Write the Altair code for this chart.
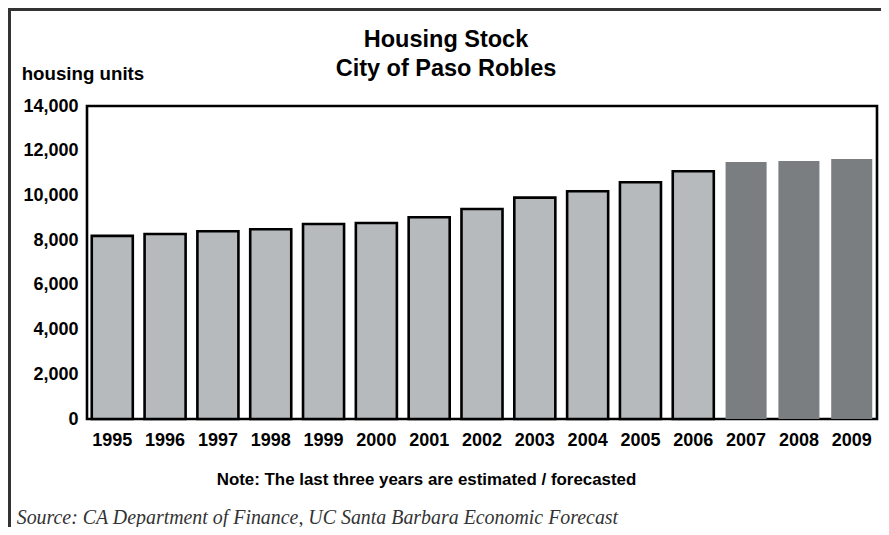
import altair as alt
import pandas as pd

years = ["1995", "1996", "1997", "1998", "1999", "2000", "2001", "2002",
         "2003", "2004", "2005", "2006", "2007", "2008", "2009"]
units = [8190, 8275, 8395, 8485, 8722, 8767, 9022, 9393,
         9903, 10185, 10587, 11079, 11495, 11540, 11630]
status = ["actual"] * 12 + ["forecast"] * 3
y_ticks = [0, 2000, 4000, 6000, 8000, 10000, 12000, 14000]

title_lines = ["Housing Stock", "City of Paso Robles"]
y_label = "housing units"
note = "Note: The last three years are estimated / forecasted"
source = "Source: CA Department of Finance, UC Santa Barbara Economic Forecast"

df = pd.DataFrame({"year": years, "units": units, "status": status})
one = pd.DataFrame({"a": [0]})

SANS = "Liberation Sans"
SERIF = "Liberation Serif"

x_enc = alt.X("year:N", sort=years,
              scale=alt.Scale(domain=years, paddingInner=0.223, paddingOuter=0.09),
              axis=alt.Axis(title=None, labelAngle=0, labelFont=SANS, labelFontSize=18,
                            labelFontWeight="bold", labelColor="black", labelPadding=12,
                            ticks=False, domain=False, grid=False))
y_enc = alt.Y("units:Q", scale=alt.Scale(domain=[0, 14000], nice=False),
              axis=alt.Axis(title=None, values=y_ticks, format=",.0f", labelFont=SANS,
                            labelFontSize=18, labelFontWeight="bold", labelColor="black",
                            labelPadding=9, ticks=False, domain=False, grid=False))

base = alt.Chart(df)
actual = base.transform_filter(alt.datum.status == "actual").mark_bar(
    color="#b6babd", stroke="black", strokeWidth=2.6
).encode(x=x_enc, y=y_enc)
forecast = base.transform_filter(alt.datum.status == "forecast").mark_bar(
    color="#7b7e81"
).encode(x=x_enc, y=y_enc)

border_left = alt.Chart(one).mark_rule(color="#333333", strokeWidth=3).encode(
    x=alt.value(-77.5), y=alt.value(-98), y2=alt.value(421))
border_top = alt.Chart(one).mark_rule(color="#333333", strokeWidth=3).encode(
    x=alt.value(-79), x2=alt.value(794), y=alt.value(-96.5))

t1 = alt.Chart(one).mark_text(font=SANS, fontSize=23.5, fontWeight="bold", color="black",
                              align="center", baseline="alphabetic").encode(
    x=alt.value(359), y=alt.value(-59.3), text=alt.value(title_lines[0]))
t2 = alt.Chart(one).mark_text(font=SANS, fontSize=23.5, fontWeight="bold", color="black",
                              align="center", baseline="alphabetic").encode(
    x=alt.value(359), y=alt.value(-30.5), text=alt.value(title_lines[1]))
ylab = alt.Chart(one).mark_text(font=SANS, fontSize=18.7, fontWeight="bold", color="black",
                                align="left", baseline="alphabetic").encode(
    x=alt.value(-65.3), y=alt.value(-26), text=alt.value(y_label))
note_t = alt.Chart(one).mark_text(font=SANS, fontSize=16.9, fontWeight="bold", color="black",
                                  align="left", baseline="alphabetic").encode(
    x=alt.value(129.7), y=alt.value(379), text=alt.value(note))
src_t = alt.Chart(one).mark_text(font=SERIF, fontSize=19.9, fontStyle="italic", color="#333333",
                                 align="left", baseline="alphabetic").encode(
    x=alt.value(-70.3), y=alt.value(418), text=alt.value(source))

chart = alt.layer(actual, forecast, border_left, border_top, t1, t2, ylab, note_t, src_t).properties(
    width=790, height=313,
    autosize=alt.AutoSizeParams(type="none"),
    padding={"left": 79, "top": 98, "right": 4, "bottom": 108},
    background="white",
).configure_view(stroke="black", strokeWidth=2.6)

chart.save("out.html", embed_options={"renderer": "svg", "actions": False})
